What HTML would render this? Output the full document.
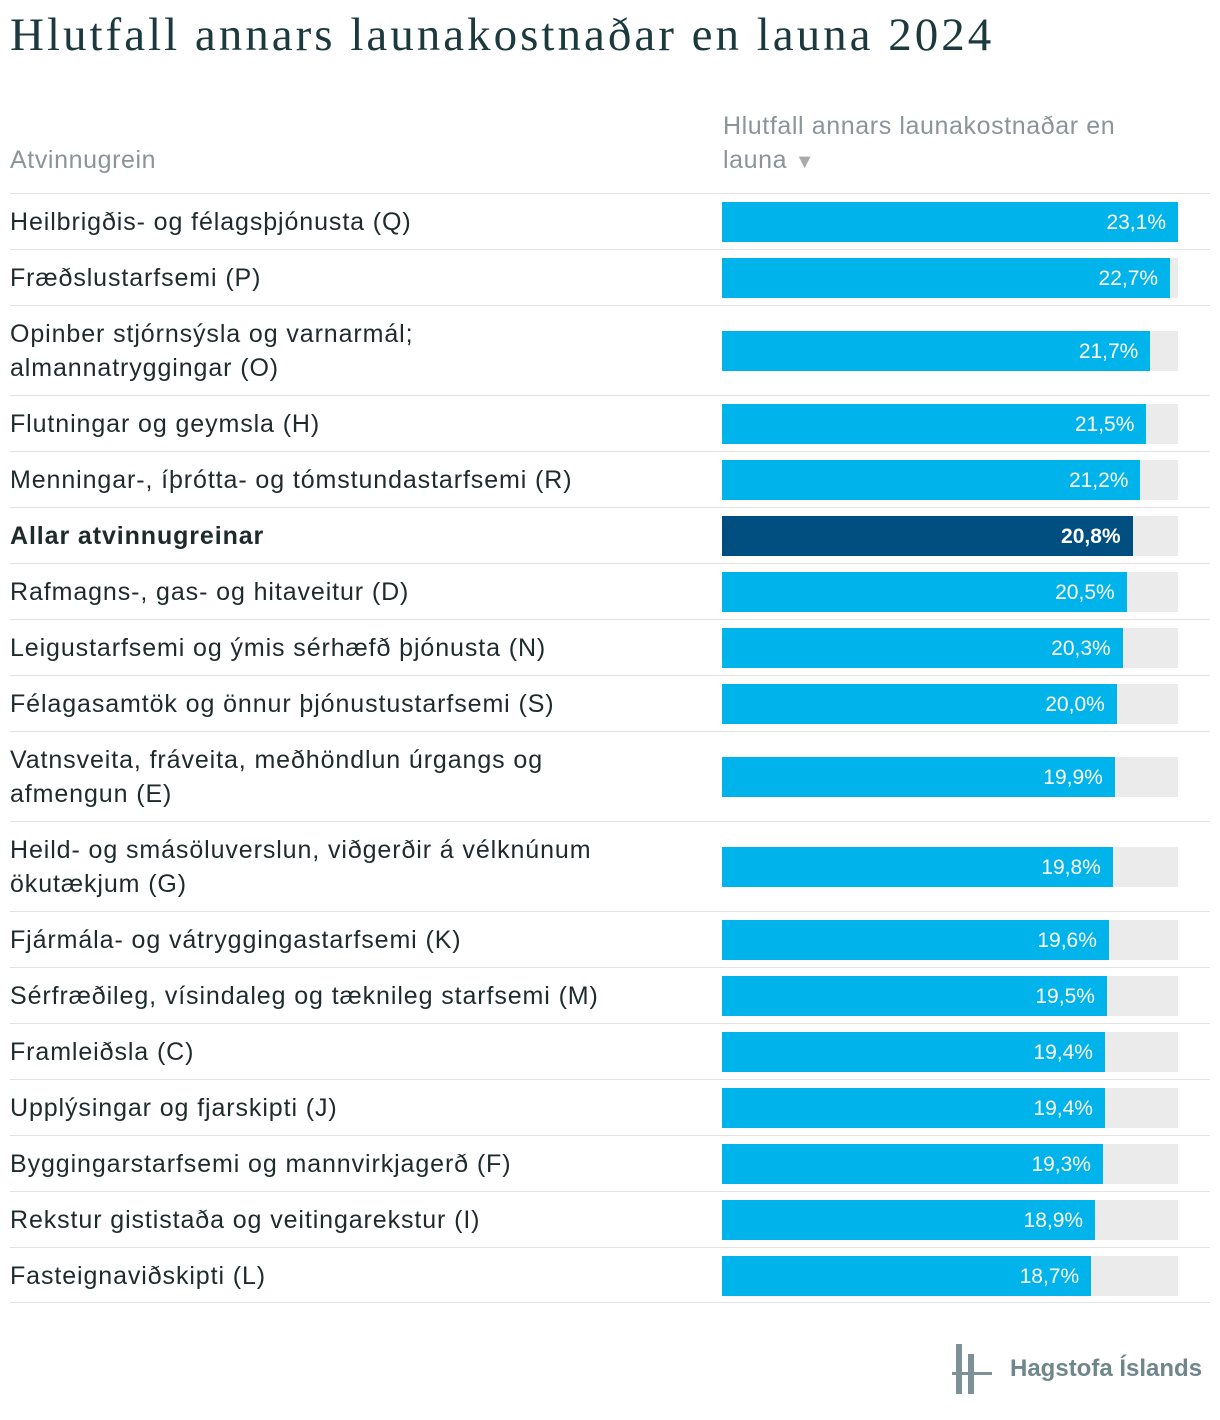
<!DOCTYPE html>
<html><head><meta charset="utf-8">
<style>
html,body{margin:0;padding:0;background:#fff;}
body{width:1220px;height:1420px;position:relative;overflow:hidden;font-family:"Liberation Sans",sans-serif;}
#title{position:absolute;left:10px;top:8px;font-family:"Liberation Serif",serif;font-size:47px;letter-spacing:3px;color:#1c3a3e;white-space:nowrap;}
.hdr{position:absolute;color:#8a9599;font-size:25px;line-height:34px;letter-spacing:0.6px;}
.row{position:absolute;left:10px;width:1200px;border-top:1px solid #e3e3e3;}
.lab{position:absolute;left:0;font-size:25px;line-height:34px;color:#1e2a2c;letter-spacing:0.9px;}
.track{position:absolute;left:712px;width:456px;height:40px;background:#ebebeb;}
.bar{position:absolute;left:0;top:0;height:40px;background:#00b3ea;}
.val{position:absolute;right:12px;top:0;line-height:42px;color:#fff;font-size:21px;}
</style></head><body>
<div id="title">Hlutfall annars launakostnaðar en launa 2024</div>
<div class="hdr" style="left:10px;top:143px">Atvinnugrein</div>
<div class="hdr" style="left:723px;top:109px;width:450px">Hlutfall annars launakostnaðar en launa <span style="font-size:20px;color:#aaa">▼</span></div>
<div id="rows"></div>
<div style="position:absolute;top:1302px;left:10px;width:1200px;border-top:1px solid #e3e3e3"></div>
<div style="position:absolute;left:952px;top:1344px;width:260px;height:52px">
  <div style="position:absolute;left:4px;top:0;width:6px;height:50px;background:#7d9095"></div>
  <div style="position:absolute;left:16px;top:10px;width:6px;height:40px;background:#7d9095"></div>
  <div style="position:absolute;left:0;top:28px;width:40px;height:3px;background:#7d9095"></div>
  <div style="position:absolute;left:58px;top:11px;font-size:24px;font-weight:bold;color:#6f868c;white-space:nowrap">Hagstofa Íslands</div>
</div>
<script>
const categories=["Heilbrigðis- og félagsþjónusta (Q)","Fræðslustarfsemi (P)","Opinber stjórnsýsla og varnarmál;<br>almannatryggingar (O)","Flutningar og geymsla (H)","Menningar-, íþrótta- og tómstundastarfsemi (R)","Allar atvinnugreinar","Rafmagns-, gas- og hitaveitur (D)","Leigustarfsemi og ýmis sérhæfð þjónusta (N)","Félagasamtök og önnur þjónustustarfsemi (S)","Vatnsveita, fráveita, meðhöndlun úrgangs og<br>afmengun (E)","Heild- og smásöluverslun, viðgerðir á vélknúnum<br>ökutækjum (G)","Fjármála- og vátryggingastarfsemi (K)","Sérfræðileg, vísindaleg og tæknileg starfsemi (M)","Framleiðsla (C)","Upplýsingar og fjarskipti (J)","Byggingarstarfsemi og mannvirkjagerð (F)","Rekstur gististaða og veitingarekstur (I)","Fasteignaviðskipti (L)"];
const values=[23.1,22.7,21.7,21.5,21.2,20.8,20.5,20.3,20.0,19.9,19.8,19.6,19.5,19.4,19.4,19.3,18.9,18.7];
const highlighted=[5];
const twoLine=[2,9,10];
const rows=document.getElementById('rows');
const maxV=Math.max(...values);
const xScale=v=>v/maxV*456;
let y=193;
categories.forEach((c,i)=>{
  const h=twoLine.includes(i)?90:56;
  const r=document.createElement('div');r.className='row';
  
  
  r.style.top=y+'px';r.style.height=h+'px';
  const l=document.createElement('div');l.className='lab';
  
  
  l.style.top='11px';
  if(highlighted.includes(i))l.style.fontWeight='bold';
  l.innerHTML=c;
  const t=document.createElement('div');t.className='track';
  
  
  t.style.top=((h-40)/2)+'px';
  const b=document.createElement('div');b.className='bar';
  
  
  b.style.width=xScale(values[i])+'px';
  if(highlighted.includes(i))b.style.background='#004f80';
  const v=document.createElement('div');v.className='val';
  
  
  if(highlighted.includes(i))v.style.fontWeight='bold';
  v.textContent=values[i].toFixed(1).replace('.',',')+'%';
  b.appendChild(v);t.appendChild(b);r.appendChild(l);r.appendChild(t);rows.appendChild(r);
  y+=h;
});
</script>
</body></html>
